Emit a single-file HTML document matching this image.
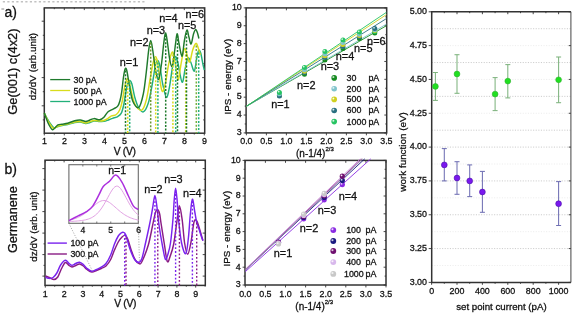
<!DOCTYPE html>
<html><head><meta charset="utf-8"><style>
html,body{margin:0;padding:0;background:#fff;}
svg{display:block;will-change:transform;}
text{font-family:"Liberation Sans", sans-serif;stroke:#111;stroke-width:0.28px;}
</style></head><body>
<svg width="575" height="315" viewBox="0 0 575 315">
<rect width="575" height="315" fill="#fff"/>
<line x1="2.8" y1="1.8" x2="146" y2="1.8" stroke="#c2c2c2" stroke-width="1.4" stroke-dasharray="2.2 2.3"/>
<line x1="1.40" y1="9.00" x2="4.20" y2="9.00" stroke="#888" stroke-width="1" />
<text x="4.40" y="16.60" font-size="14.0" text-anchor="start" fill="#111" >a)</text>
<text x="4.50" y="173.60" font-size="14.0" text-anchor="start" fill="#111" >b)</text>
<rect x="44.30" y="7.90" width="160.40" height="125.30" fill="none" stroke="#333333" stroke-width="1.5"/>
<line x1="44.30" y1="133.20" x2="44.30" y2="135.40" stroke="#333333" stroke-width="0.9" />
<line x1="44.30" y1="7.90" x2="44.30" y2="10.10" stroke="#333333" stroke-width="0.9" />
<line x1="54.30" y1="133.20" x2="54.30" y2="134.50" stroke="#333333" stroke-width="0.9" />
<line x1="54.30" y1="7.90" x2="54.30" y2="9.20" stroke="#333333" stroke-width="0.9" />
<line x1="64.30" y1="133.20" x2="64.30" y2="135.40" stroke="#333333" stroke-width="0.9" />
<line x1="64.30" y1="7.90" x2="64.30" y2="10.10" stroke="#333333" stroke-width="0.9" />
<line x1="74.30" y1="133.20" x2="74.30" y2="134.50" stroke="#333333" stroke-width="0.9" />
<line x1="74.30" y1="7.90" x2="74.30" y2="9.20" stroke="#333333" stroke-width="0.9" />
<line x1="84.30" y1="133.20" x2="84.30" y2="135.40" stroke="#333333" stroke-width="0.9" />
<line x1="84.30" y1="7.90" x2="84.30" y2="10.10" stroke="#333333" stroke-width="0.9" />
<line x1="94.30" y1="133.20" x2="94.30" y2="134.50" stroke="#333333" stroke-width="0.9" />
<line x1="94.30" y1="7.90" x2="94.30" y2="9.20" stroke="#333333" stroke-width="0.9" />
<line x1="104.30" y1="133.20" x2="104.30" y2="135.40" stroke="#333333" stroke-width="0.9" />
<line x1="104.30" y1="7.90" x2="104.30" y2="10.10" stroke="#333333" stroke-width="0.9" />
<line x1="114.30" y1="133.20" x2="114.30" y2="134.50" stroke="#333333" stroke-width="0.9" />
<line x1="114.30" y1="7.90" x2="114.30" y2="9.20" stroke="#333333" stroke-width="0.9" />
<line x1="124.30" y1="133.20" x2="124.30" y2="135.40" stroke="#333333" stroke-width="0.9" />
<line x1="124.30" y1="7.90" x2="124.30" y2="10.10" stroke="#333333" stroke-width="0.9" />
<line x1="134.30" y1="133.20" x2="134.30" y2="134.50" stroke="#333333" stroke-width="0.9" />
<line x1="134.30" y1="7.90" x2="134.30" y2="9.20" stroke="#333333" stroke-width="0.9" />
<line x1="144.30" y1="133.20" x2="144.30" y2="135.40" stroke="#333333" stroke-width="0.9" />
<line x1="144.30" y1="7.90" x2="144.30" y2="10.10" stroke="#333333" stroke-width="0.9" />
<line x1="154.30" y1="133.20" x2="154.30" y2="134.50" stroke="#333333" stroke-width="0.9" />
<line x1="154.30" y1="7.90" x2="154.30" y2="9.20" stroke="#333333" stroke-width="0.9" />
<line x1="164.30" y1="133.20" x2="164.30" y2="135.40" stroke="#333333" stroke-width="0.9" />
<line x1="164.30" y1="7.90" x2="164.30" y2="10.10" stroke="#333333" stroke-width="0.9" />
<line x1="174.30" y1="133.20" x2="174.30" y2="134.50" stroke="#333333" stroke-width="0.9" />
<line x1="174.30" y1="7.90" x2="174.30" y2="9.20" stroke="#333333" stroke-width="0.9" />
<line x1="184.30" y1="133.20" x2="184.30" y2="135.40" stroke="#333333" stroke-width="0.9" />
<line x1="184.30" y1="7.90" x2="184.30" y2="10.10" stroke="#333333" stroke-width="0.9" />
<line x1="194.30" y1="133.20" x2="194.30" y2="134.50" stroke="#333333" stroke-width="0.9" />
<line x1="194.30" y1="7.90" x2="194.30" y2="9.20" stroke="#333333" stroke-width="0.9" />
<line x1="204.30" y1="133.20" x2="204.30" y2="135.40" stroke="#333333" stroke-width="0.9" />
<line x1="204.30" y1="7.90" x2="204.30" y2="10.10" stroke="#333333" stroke-width="0.9" />
<text x="44.50" y="143.90" font-size="8.9" text-anchor="middle" fill="#111" >1</text>
<text x="64.50" y="143.90" font-size="8.9" text-anchor="middle" fill="#111" >2</text>
<text x="84.50" y="143.90" font-size="8.9" text-anchor="middle" fill="#111" >3</text>
<text x="104.50" y="143.90" font-size="8.9" text-anchor="middle" fill="#111" >4</text>
<text x="124.50" y="143.90" font-size="8.9" text-anchor="middle" fill="#111" >5</text>
<text x="144.50" y="143.90" font-size="8.9" text-anchor="middle" fill="#111" >6</text>
<text x="164.50" y="143.90" font-size="8.9" text-anchor="middle" fill="#111" >7</text>
<text x="184.50" y="143.90" font-size="8.9" text-anchor="middle" fill="#111" >8</text>
<text x="204.50" y="143.90" font-size="8.9" text-anchor="middle" fill="#111" >9</text>
<line x1="41.70" y1="21.20" x2="44.30" y2="21.20" stroke="#333333" stroke-width="0.9" />
<line x1="202.10" y1="21.20" x2="204.70" y2="21.20" stroke="#333333" stroke-width="0.9" />
<line x1="42.80" y1="35.30" x2="44.30" y2="35.30" stroke="#333333" stroke-width="0.9" />
<line x1="203.20" y1="35.30" x2="204.70" y2="35.30" stroke="#333333" stroke-width="0.9" />
<line x1="41.70" y1="49.40" x2="44.30" y2="49.40" stroke="#333333" stroke-width="0.9" />
<line x1="202.10" y1="49.40" x2="204.70" y2="49.40" stroke="#333333" stroke-width="0.9" />
<line x1="42.80" y1="63.50" x2="44.30" y2="63.50" stroke="#333333" stroke-width="0.9" />
<line x1="203.20" y1="63.50" x2="204.70" y2="63.50" stroke="#333333" stroke-width="0.9" />
<line x1="41.70" y1="77.60" x2="44.30" y2="77.60" stroke="#333333" stroke-width="0.9" />
<line x1="202.10" y1="77.60" x2="204.70" y2="77.60" stroke="#333333" stroke-width="0.9" />
<line x1="42.80" y1="91.70" x2="44.30" y2="91.70" stroke="#333333" stroke-width="0.9" />
<line x1="203.20" y1="91.70" x2="204.70" y2="91.70" stroke="#333333" stroke-width="0.9" />
<line x1="41.70" y1="105.80" x2="44.30" y2="105.80" stroke="#333333" stroke-width="0.9" />
<line x1="202.10" y1="105.80" x2="204.70" y2="105.80" stroke="#333333" stroke-width="0.9" />
<line x1="42.80" y1="119.90" x2="44.30" y2="119.90" stroke="#333333" stroke-width="0.9" />
<line x1="203.20" y1="119.90" x2="204.70" y2="119.90" stroke="#333333" stroke-width="0.9" />
<text x="124.70" y="154.50" font-size="10.3" text-anchor="middle" fill="#111" letter-spacing="-0.35">V (V)</text>
<text x="0" y="0" font-size="9.9" text-anchor="middle" fill="#111" transform="translate(35.70,66.60) rotate(-90)" >dz/dV (arb.unit)</text>
<text x="0" y="0" font-size="12.8" text-anchor="middle" fill="#111" transform="translate(17.30,71.60) rotate(-90)" >Ge(001) c(4x2)</text>
<line x1="50.20" y1="79.60" x2="70.20" y2="79.60" stroke="#1f7a2c" stroke-width="1.3" />
<text x="73.50" y="82.80" font-size="8.9" text-anchor="start" fill="#111" >30 pA</text>
<line x1="50.20" y1="90.50" x2="70.20" y2="90.50" stroke="#d9dc1c" stroke-width="1.3" />
<text x="73.50" y="93.70" font-size="8.9" text-anchor="start" fill="#111" >500 pA</text>
<line x1="50.20" y1="101.50" x2="70.20" y2="101.50" stroke="#22b07a" stroke-width="1.3" />
<text x="73.50" y="104.70" font-size="8.9" text-anchor="start" fill="#111" >1000 pA</text>
<path d="M44.30,113.10 C44.97,114.33 46.73,118.08 48.30,120.50 C49.87,122.92 52.10,126.60 53.70,127.60 C55.30,128.60 56.50,126.85 57.90,126.50 C59.30,126.15 60.47,125.83 62.10,125.50 C63.73,125.17 65.60,125.00 67.70,124.50 C69.80,124.00 72.60,122.92 74.70,122.50 C76.80,122.08 78.47,121.83 80.30,122.00 C82.13,122.17 84.10,123.42 85.70,123.50 C87.30,123.58 88.50,122.92 89.90,122.50 C91.30,122.08 92.47,121.17 94.10,121.00 C95.73,120.83 98.07,121.43 99.70,121.50 C101.33,121.57 102.47,121.65 103.90,121.40 C105.33,121.15 106.70,120.57 108.30,120.00 C109.90,119.43 111.93,118.57 113.50,118.00 C115.07,117.43 116.40,117.42 117.70,116.60 C119.00,115.78 120.30,115.03 121.30,113.10 C122.30,111.17 122.93,108.52 123.70,105.00 C124.47,101.48 125.20,95.67 125.90,92.00 C126.60,88.33 127.23,84.92 127.90,83.00 C128.57,81.08 129.23,80.33 129.90,80.50 C130.57,80.67 131.10,81.25 131.90,84.00 C132.70,86.75 133.63,93.17 134.70,97.00 C135.77,100.83 136.87,104.52 138.30,107.00 C139.73,109.48 141.63,112.57 143.30,111.90 C144.97,111.23 146.80,107.65 148.30,103.00 C149.80,98.35 151.10,90.33 152.30,84.00 C153.50,77.67 154.60,68.92 155.50,65.00 C156.40,61.08 156.97,60.33 157.70,60.50 C158.43,60.67 159.07,62.08 159.90,66.00 C160.73,69.92 161.63,78.78 162.70,84.00 C163.77,89.22 165.20,96.63 166.30,97.30 C167.40,97.97 168.23,93.22 169.30,88.00 C170.37,82.78 171.70,71.25 172.70,66.00 C173.70,60.75 174.43,57.00 175.30,56.50 C176.17,56.00 176.77,58.72 177.90,63.00 C179.03,67.28 180.87,81.37 182.10,82.20 C183.33,83.03 184.33,72.03 185.30,68.00 C186.27,63.97 187.00,59.00 187.90,58.00 C188.80,57.00 189.63,59.82 190.70,62.00 C191.77,64.18 193.30,71.77 194.30,71.10 C195.30,70.43 195.97,61.43 196.70,58.00 C197.43,54.57 198.03,51.33 198.70,50.50 C199.37,49.67 200.00,50.75 200.70,53.00 C201.40,55.25 202.30,61.17 202.90,64.00 C203.50,66.83 204.07,69.00 204.30,70.00" fill="none" stroke="#22b07a" stroke-width="1.45" stroke-linejoin="round"/>
<path d="M44.30,113.10 C44.97,114.50 46.83,118.98 48.30,121.50 C49.77,124.02 51.50,127.45 53.10,128.20 C54.70,128.95 56.40,126.53 57.90,126.00 C59.40,125.47 60.47,125.33 62.10,125.00 C63.73,124.67 65.60,124.50 67.70,124.00 C69.80,123.50 72.60,122.42 74.70,122.00 C76.80,121.58 78.47,121.33 80.30,121.50 C82.13,121.67 84.10,123.00 85.70,123.00 C87.30,123.00 88.50,121.92 89.90,121.50 C91.30,121.08 92.47,120.58 94.10,120.50 C95.73,120.42 98.07,121.00 99.70,121.00 C101.33,121.00 102.47,120.97 103.90,120.50 C105.33,120.03 107.03,118.97 108.30,118.20 C109.57,117.43 110.17,116.52 111.50,115.90 C112.83,115.28 114.90,115.57 116.30,114.50 C117.70,113.43 118.90,111.75 119.90,109.50 C120.90,107.25 121.57,104.42 122.30,101.00 C123.03,97.58 123.63,92.42 124.30,89.00 C124.97,85.58 125.73,82.22 126.30,80.50 C126.87,78.78 127.20,78.45 127.70,78.70 C128.20,78.95 128.60,79.45 129.30,82.00 C130.00,84.55 130.90,90.17 131.90,94.00 C132.90,97.83 133.67,102.30 135.30,105.00 C136.93,107.70 139.87,111.03 141.70,110.20 C143.53,109.37 144.87,105.37 146.30,100.00 C147.73,94.63 149.13,84.33 150.30,78.00 C151.47,71.67 152.43,65.57 153.30,62.00 C154.17,58.43 154.80,56.60 155.50,56.60 C156.20,56.60 156.77,58.10 157.50,62.00 C158.23,65.90 159.10,75.08 159.90,80.00 C160.70,84.92 161.40,90.83 162.30,91.50 C163.20,92.17 164.30,88.25 165.30,84.00 C166.30,79.75 167.37,70.83 168.30,66.00 C169.23,61.17 170.13,57.23 170.90,55.00 C171.67,52.77 172.17,51.10 172.90,52.60 C173.63,54.10 174.43,59.47 175.30,64.00 C176.17,68.53 177.20,79.47 178.10,79.80 C179.00,80.13 179.83,70.63 180.70,66.00 C181.57,61.37 182.53,54.83 183.30,52.00 C184.07,49.17 184.63,48.33 185.30,49.00 C185.97,49.67 186.57,53.83 187.30,56.00 C188.03,58.17 188.80,63.00 189.70,62.00 C190.60,61.00 191.67,53.08 192.70,50.00 C193.73,46.92 195.03,44.00 195.90,43.50 C196.77,43.00 197.17,45.08 197.90,47.00 C198.63,48.92 199.90,53.67 200.30,55.00" fill="none" stroke="#d9dc1c" stroke-width="1.45" stroke-linejoin="round"/>
<path d="M44.30,113.10 C44.97,114.83 46.97,120.75 48.30,123.50 C49.63,126.25 51.13,128.93 52.30,129.60 C53.47,130.27 54.37,128.28 55.30,127.50 C56.23,126.72 56.77,125.45 57.90,124.90 C59.03,124.35 60.47,124.47 62.10,124.20 C63.73,123.93 65.60,123.88 67.70,123.30 C69.80,122.72 72.60,121.25 74.70,120.70 C76.80,120.15 78.47,119.88 80.30,120.00 C82.13,120.12 84.10,121.40 85.70,121.40 C87.30,121.40 88.50,120.47 89.90,120.00 C91.30,119.53 92.47,118.63 94.10,118.60 C95.73,118.57 98.07,120.02 99.70,119.80 C101.33,119.58 102.50,118.65 103.90,117.30 C105.30,115.95 106.50,113.10 108.10,111.70 C109.70,110.30 111.90,109.83 113.50,108.90 C115.10,107.97 116.63,107.42 117.70,106.10 C118.77,104.78 119.23,103.35 119.90,101.00 C120.57,98.65 121.10,96.00 121.70,92.00 C122.30,88.00 122.90,80.90 123.50,77.00 C124.10,73.10 124.73,69.60 125.30,68.60 C125.87,67.60 126.23,68.27 126.90,71.00 C127.57,73.73 128.33,80.00 129.30,85.00 C130.27,90.00 131.13,97.25 132.70,101.00 C134.27,104.75 136.93,108.67 138.70,107.50 C140.47,106.33 142.03,99.92 143.30,94.00 C144.57,88.08 145.40,79.33 146.30,72.00 C147.20,64.67 147.97,55.27 148.70,50.00 C149.43,44.73 150.03,40.40 150.70,40.40 C151.37,40.40 151.83,44.73 152.70,50.00 C153.57,55.27 154.90,67.17 155.90,72.00 C156.90,76.83 157.77,80.33 158.70,79.00 C159.63,77.67 160.63,70.17 161.50,64.00 C162.37,57.83 163.20,47.17 163.90,42.00 C164.60,36.83 165.10,32.83 165.70,33.00 C166.30,33.17 166.87,38.83 167.50,43.00 C168.13,47.17 168.80,54.08 169.50,58.00 C170.20,61.92 171.00,66.50 171.70,66.50 C172.40,66.50 173.07,61.75 173.70,58.00 C174.33,54.25 174.93,48.05 175.50,44.00 C176.07,39.95 176.53,33.87 177.10,33.70 C177.67,33.53 178.23,39.62 178.90,43.00 C179.57,46.38 180.50,52.00 181.10,54.00 C181.70,56.00 181.93,57.33 182.50,55.00 C183.07,52.67 183.77,44.17 184.50,40.00 C185.23,35.83 186.17,30.50 186.90,30.00 C187.63,29.50 188.20,34.67 188.90,37.00 C189.60,39.33 190.33,44.50 191.10,44.00 C191.87,43.50 192.73,36.42 193.50,34.00 C194.27,31.58 195.03,29.67 195.70,29.50 C196.37,29.33 196.97,31.50 197.50,33.00 C198.03,34.50 198.67,37.58 198.90,38.50" fill="none" stroke="#1f7a2c" stroke-width="1.45" stroke-linejoin="round"/>
<line x1="125.50" y1="70.60" x2="125.50" y2="133.20" stroke="#1f7a2c" stroke-width="1.5" stroke-dasharray="2.0 1.6"/>
<line x1="127.70" y1="80.70" x2="127.70" y2="133.20" stroke="#d9dc1c" stroke-width="1.5" stroke-dasharray="2.0 1.6"/>
<line x1="129.70" y1="82.50" x2="129.70" y2="133.20" stroke="#22b07a" stroke-width="1.5" stroke-dasharray="2.0 1.6"/>
<line x1="150.70" y1="42.40" x2="150.70" y2="133.20" stroke="#6a9a30" stroke-width="1.5" stroke-dasharray="2.0 1.6"/>
<line x1="155.70" y1="58.60" x2="155.70" y2="133.20" stroke="#d9dc1c" stroke-width="1.5" stroke-dasharray="2.0 1.6"/>
<line x1="157.90" y1="62.50" x2="157.90" y2="133.20" stroke="#22b07a" stroke-width="1.5" stroke-dasharray="2.0 1.6"/>
<line x1="165.70" y1="35.00" x2="165.70" y2="133.20" stroke="#1f7a2c" stroke-width="1.5" stroke-dasharray="2.0 1.6"/>
<line x1="172.90" y1="54.60" x2="172.90" y2="133.20" stroke="#d9dc1c" stroke-width="1.5" stroke-dasharray="2.0 1.6"/>
<line x1="175.70" y1="58.50" x2="175.70" y2="133.20" stroke="#22b07a" stroke-width="1.5" stroke-dasharray="2.0 1.6"/>
<line x1="177.50" y1="35.70" x2="177.50" y2="133.20" stroke="#1f7a2c" stroke-width="1.5" stroke-dasharray="2.0 1.6"/>
<line x1="185.70" y1="51.00" x2="185.70" y2="133.20" stroke="#d9dc1c" stroke-width="1.5" stroke-dasharray="2.0 1.6"/>
<line x1="186.50" y1="33.00" x2="186.50" y2="133.20" stroke="#1f7a2c" stroke-width="1.5" stroke-dasharray="2.0 1.6"/>
<line x1="196.30" y1="45.50" x2="196.30" y2="133.20" stroke="#7ab040" stroke-width="1.5" stroke-dasharray="2.0 1.6"/>
<line x1="198.70" y1="52.50" x2="198.70" y2="133.20" stroke="#22b07a" stroke-width="1.5" stroke-dasharray="2.0 1.6"/>
<text x="119.80" y="65.70" font-size="10.9" text-anchor="start" fill="#111" >n=1</text>
<text x="130.00" y="46.30" font-size="10.9" text-anchor="start" fill="#111" >n=2</text>
<text x="146.70" y="33.90" font-size="10.9" text-anchor="start" fill="#111" >n=3</text>
<text x="159.20" y="21.90" font-size="10.9" text-anchor="start" fill="#111" >n=4</text>
<text x="177.90" y="29.40" font-size="10.9" text-anchor="start" fill="#111" >n=5</text>
<text x="185.50" y="18.40" font-size="10.9" text-anchor="start" fill="#111" >n=6</text>
<rect x="246.10" y="7.90" width="140.60" height="125.00" fill="none" stroke="#333333" stroke-width="1.5"/>
<line x1="243.70" y1="132.90" x2="246.10" y2="132.90" stroke="#333333" stroke-width="0.9" />
<line x1="384.30" y1="132.90" x2="386.70" y2="132.90" stroke="#333333" stroke-width="0.9" />
<line x1="244.70" y1="123.97" x2="246.10" y2="123.97" stroke="#333333" stroke-width="0.9" />
<line x1="385.30" y1="123.97" x2="386.70" y2="123.97" stroke="#333333" stroke-width="0.9" />
<line x1="243.70" y1="115.04" x2="246.10" y2="115.04" stroke="#333333" stroke-width="0.9" />
<line x1="384.30" y1="115.04" x2="386.70" y2="115.04" stroke="#333333" stroke-width="0.9" />
<line x1="244.70" y1="106.11" x2="246.10" y2="106.11" stroke="#333333" stroke-width="0.9" />
<line x1="385.30" y1="106.11" x2="386.70" y2="106.11" stroke="#333333" stroke-width="0.9" />
<line x1="243.70" y1="97.18" x2="246.10" y2="97.18" stroke="#333333" stroke-width="0.9" />
<line x1="384.30" y1="97.18" x2="386.70" y2="97.18" stroke="#333333" stroke-width="0.9" />
<line x1="244.70" y1="88.25" x2="246.10" y2="88.25" stroke="#333333" stroke-width="0.9" />
<line x1="385.30" y1="88.25" x2="386.70" y2="88.25" stroke="#333333" stroke-width="0.9" />
<line x1="243.70" y1="79.32" x2="246.10" y2="79.32" stroke="#333333" stroke-width="0.9" />
<line x1="384.30" y1="79.32" x2="386.70" y2="79.32" stroke="#333333" stroke-width="0.9" />
<line x1="244.70" y1="70.39" x2="246.10" y2="70.39" stroke="#333333" stroke-width="0.9" />
<line x1="385.30" y1="70.39" x2="386.70" y2="70.39" stroke="#333333" stroke-width="0.9" />
<line x1="243.70" y1="61.46" x2="246.10" y2="61.46" stroke="#333333" stroke-width="0.9" />
<line x1="384.30" y1="61.46" x2="386.70" y2="61.46" stroke="#333333" stroke-width="0.9" />
<line x1="244.70" y1="52.53" x2="246.10" y2="52.53" stroke="#333333" stroke-width="0.9" />
<line x1="385.30" y1="52.53" x2="386.70" y2="52.53" stroke="#333333" stroke-width="0.9" />
<line x1="243.70" y1="43.60" x2="246.10" y2="43.60" stroke="#333333" stroke-width="0.9" />
<line x1="384.30" y1="43.60" x2="386.70" y2="43.60" stroke="#333333" stroke-width="0.9" />
<line x1="244.70" y1="34.67" x2="246.10" y2="34.67" stroke="#333333" stroke-width="0.9" />
<line x1="385.30" y1="34.67" x2="386.70" y2="34.67" stroke="#333333" stroke-width="0.9" />
<line x1="243.70" y1="25.74" x2="246.10" y2="25.74" stroke="#333333" stroke-width="0.9" />
<line x1="384.30" y1="25.74" x2="386.70" y2="25.74" stroke="#333333" stroke-width="0.9" />
<line x1="244.70" y1="16.81" x2="246.10" y2="16.81" stroke="#333333" stroke-width="0.9" />
<line x1="385.30" y1="16.81" x2="386.70" y2="16.81" stroke="#333333" stroke-width="0.9" />
<line x1="243.70" y1="7.88" x2="246.10" y2="7.88" stroke="#333333" stroke-width="0.9" />
<line x1="384.30" y1="7.88" x2="386.70" y2="7.88" stroke="#333333" stroke-width="0.9" />
<text x="241.80" y="135.20" font-size="8.9" text-anchor="end" fill="#111" >3</text>
<text x="241.80" y="117.34" font-size="8.9" text-anchor="end" fill="#111" >4</text>
<text x="241.80" y="99.48" font-size="8.9" text-anchor="end" fill="#111" >5</text>
<text x="241.80" y="81.62" font-size="8.9" text-anchor="end" fill="#111" >6</text>
<text x="241.80" y="63.76" font-size="8.9" text-anchor="end" fill="#111" >7</text>
<text x="241.80" y="45.90" font-size="8.9" text-anchor="end" fill="#111" >8</text>
<text x="241.80" y="28.04" font-size="8.9" text-anchor="end" fill="#111" >9</text>
<text x="241.80" y="10.18" font-size="8.9" text-anchor="end" fill="#111" >10</text>
<line x1="246.40" y1="132.90" x2="246.40" y2="135.30" stroke="#333333" stroke-width="0.9" />
<line x1="246.40" y1="7.90" x2="246.40" y2="10.30" stroke="#333333" stroke-width="0.9" />
<line x1="266.40" y1="132.90" x2="266.40" y2="135.30" stroke="#333333" stroke-width="0.9" />
<line x1="266.40" y1="7.90" x2="266.40" y2="10.30" stroke="#333333" stroke-width="0.9" />
<line x1="286.40" y1="132.90" x2="286.40" y2="135.30" stroke="#333333" stroke-width="0.9" />
<line x1="286.40" y1="7.90" x2="286.40" y2="10.30" stroke="#333333" stroke-width="0.9" />
<line x1="306.40" y1="132.90" x2="306.40" y2="135.30" stroke="#333333" stroke-width="0.9" />
<line x1="306.40" y1="7.90" x2="306.40" y2="10.30" stroke="#333333" stroke-width="0.9" />
<line x1="326.40" y1="132.90" x2="326.40" y2="135.30" stroke="#333333" stroke-width="0.9" />
<line x1="326.40" y1="7.90" x2="326.40" y2="10.30" stroke="#333333" stroke-width="0.9" />
<line x1="346.40" y1="132.90" x2="346.40" y2="135.30" stroke="#333333" stroke-width="0.9" />
<line x1="346.40" y1="7.90" x2="346.40" y2="10.30" stroke="#333333" stroke-width="0.9" />
<line x1="366.40" y1="132.90" x2="366.40" y2="135.30" stroke="#333333" stroke-width="0.9" />
<line x1="366.40" y1="7.90" x2="366.40" y2="10.30" stroke="#333333" stroke-width="0.9" />
<line x1="386.40" y1="132.90" x2="386.40" y2="135.30" stroke="#333333" stroke-width="0.9" />
<line x1="386.40" y1="7.90" x2="386.40" y2="10.30" stroke="#333333" stroke-width="0.9" />
<text x="246.40" y="144.20" font-size="8.9" text-anchor="middle" fill="#111" >0.0</text>
<text x="266.40" y="144.20" font-size="8.9" text-anchor="middle" fill="#111" >0.5</text>
<text x="286.40" y="144.20" font-size="8.9" text-anchor="middle" fill="#111" >1.0</text>
<text x="306.40" y="144.20" font-size="8.9" text-anchor="middle" fill="#111" >1.5</text>
<text x="326.40" y="144.20" font-size="8.9" text-anchor="middle" fill="#111" >2.0</text>
<text x="346.40" y="144.20" font-size="8.9" text-anchor="middle" fill="#111" >2.5</text>
<text x="366.40" y="144.20" font-size="8.9" text-anchor="middle" fill="#111" >3.0</text>
<text x="386.40" y="144.20" font-size="8.9" text-anchor="middle" fill="#111" >3.5</text>
<text x="296.0" y="157.0" font-size="10.0" fill="#111">(n-1/4)<tspan font-size="6" dy="-5.9">2/3</tspan></text>
<text x="0" y="0" font-size="9.8" text-anchor="middle" fill="#111" transform="translate(230.60,76.60) rotate(-90)" >IPS - energy (eV)</text>
<line x1="246.40" y1="106.29" x2="386.40" y2="25.74" stroke="#158a20" stroke-width="0.9"/>
<line x1="246.40" y1="106.29" x2="386.40" y2="24.13" stroke="#80c4cc" stroke-width="0.9"/>
<line x1="246.40" y1="106.29" x2="386.40" y2="14.67" stroke="#d0d020" stroke-width="0.9"/>
<line x1="246.40" y1="106.29" x2="386.40" y2="18.60" stroke="#2a7080" stroke-width="0.9"/>
<line x1="246.40" y1="106.29" x2="386.40" y2="12.35" stroke="#26c462" stroke-width="0.9"/>
<defs>
<radialGradient id="g0" cx="0.35" cy="0.35" r="0.75"><stop offset="0" stop-color="#ffffff" stop-opacity="0.9"/><stop offset="0.35" stop-color="#158a20"/><stop offset="1" stop-color="#158a20"/></radialGradient>
<radialGradient id="g1" cx="0.35" cy="0.35" r="0.75"><stop offset="0" stop-color="#ffffff" stop-opacity="0.9"/><stop offset="0.35" stop-color="#80c4cc"/><stop offset="1" stop-color="#80c4cc"/></radialGradient>
<radialGradient id="g2" cx="0.35" cy="0.35" r="0.75"><stop offset="0" stop-color="#ffffff" stop-opacity="0.9"/><stop offset="0.35" stop-color="#d0d020"/><stop offset="1" stop-color="#d0d020"/></radialGradient>
<radialGradient id="g3" cx="0.35" cy="0.35" r="0.75"><stop offset="0" stop-color="#ffffff" stop-opacity="0.9"/><stop offset="0.35" stop-color="#2a7080"/><stop offset="1" stop-color="#2a7080"/></radialGradient>
<radialGradient id="g4" cx="0.35" cy="0.35" r="0.75"><stop offset="0" stop-color="#ffffff" stop-opacity="0.9"/><stop offset="0.35" stop-color="#26c462"/><stop offset="1" stop-color="#26c462"/></radialGradient>
<radialGradient id="g5" cx="0.35" cy="0.35" r="0.75"><stop offset="0" stop-color="#ffffff" stop-opacity="0.9"/><stop offset="0.35" stop-color="#8a2be2"/><stop offset="1" stop-color="#8a2be2"/></radialGradient>
<radialGradient id="g6" cx="0.35" cy="0.35" r="0.75"><stop offset="0" stop-color="#ffffff" stop-opacity="0.9"/><stop offset="0.35" stop-color="#1a1a80"/><stop offset="1" stop-color="#1a1a80"/></radialGradient>
<radialGradient id="g7" cx="0.35" cy="0.35" r="0.75"><stop offset="0" stop-color="#ffffff" stop-opacity="0.9"/><stop offset="0.35" stop-color="#701070"/><stop offset="1" stop-color="#701070"/></radialGradient>
<radialGradient id="g8" cx="0.35" cy="0.35" r="0.75"><stop offset="0" stop-color="#ffffff" stop-opacity="0.9"/><stop offset="0.35" stop-color="#d8b8ec"/><stop offset="1" stop-color="#d8b8ec"/></radialGradient>
<radialGradient id="g9" cx="0.35" cy="0.35" r="0.75"><stop offset="0" stop-color="#ffffff" stop-opacity="0.9"/><stop offset="0.35" stop-color="#c8c8c8"/><stop offset="1" stop-color="#c8c8c8"/></radialGradient>
<radialGradient id="g10" cx="0.35" cy="0.35" r="0.75"><stop offset="0" stop-color="#ffffff" stop-opacity="0.9"/><stop offset="0.35" stop-color="#a0a0a0"/><stop offset="1" stop-color="#a0a0a0"/></radialGradient>
</defs>
<circle cx="279.42" cy="95.50" r="2.5" fill="url(#g0)"/>
<circle cx="279.42" cy="95.00" r="2.5" fill="url(#g2)"/>
<circle cx="279.42" cy="96.10" r="2.5" fill="url(#g3)"/>
<circle cx="279.42" cy="93.80" r="2.5" fill="url(#g1)"/>
<circle cx="279.42" cy="92.40" r="2.5" fill="url(#g4)"/>
<circle cx="304.49" cy="74.30" r="2.5" fill="url(#g0)"/>
<circle cx="304.49" cy="72.50" r="2.5" fill="url(#g3)"/>
<circle cx="304.49" cy="71.30" r="2.5" fill="url(#g2)"/>
<circle cx="304.49" cy="69.80" r="2.5" fill="url(#g1)"/>
<circle cx="304.49" cy="67.40" r="2.5" fill="url(#g4)"/>
<circle cx="324.91" cy="60.10" r="2.5" fill="url(#g0)"/>
<circle cx="324.91" cy="57.60" r="2.5" fill="url(#g3)"/>
<circle cx="324.91" cy="55.80" r="2.5" fill="url(#g2)"/>
<circle cx="324.91" cy="54.00" r="2.5" fill="url(#g1)"/>
<circle cx="324.91" cy="51.40" r="2.5" fill="url(#g4)"/>
<circle cx="342.95" cy="48.60" r="2.5" fill="url(#g0)"/>
<circle cx="342.95" cy="46.40" r="2.5" fill="url(#g3)"/>
<circle cx="342.95" cy="44.60" r="2.5" fill="url(#g2)"/>
<circle cx="342.95" cy="42.60" r="2.5" fill="url(#g1)"/>
<circle cx="342.95" cy="39.90" r="2.5" fill="url(#g4)"/>
<circle cx="359.43" cy="38.60" r="2.5" fill="url(#g0)"/>
<circle cx="359.43" cy="36.80" r="2.5" fill="url(#g3)"/>
<circle cx="359.43" cy="35.40" r="2.5" fill="url(#g2)"/>
<circle cx="359.43" cy="34.20" r="2.5" fill="url(#g1)"/>
<circle cx="359.43" cy="32.10" r="2.5" fill="url(#g4)"/>
<circle cx="374.78" cy="33.00" r="2.5" fill="url(#g0)"/>
<circle cx="374.78" cy="31.40" r="2.5" fill="url(#g4)"/>
<circle cx="374.78" cy="30.60" r="2.5" fill="url(#g2)"/>
<circle cx="374.78" cy="29.80" r="2.5" fill="url(#g1)"/>
<circle cx="374.78" cy="28.50" r="2.5" fill="url(#g3)"/>
<text x="271.20" y="107.80" font-size="10.9" text-anchor="start" fill="#111" >n=1</text>
<text x="297.00" y="88.60" font-size="10.9" text-anchor="start" fill="#111" >n=2</text>
<text x="320.70" y="69.90" font-size="10.9" text-anchor="start" fill="#111" >n=3</text>
<text x="335.80" y="59.50" font-size="10.9" text-anchor="start" fill="#111" >n=4</text>
<text x="354.00" y="52.30" font-size="10.9" text-anchor="start" fill="#111" >n=5</text>
<text x="367.10" y="45.10" font-size="10.9" text-anchor="start" fill="#111" >n=6</text>
<circle cx="334.2" cy="77.90" r="2.8" fill="url(#g0)"/>
<text x="346.60" y="80.80" font-size="8.9" text-anchor="start" fill="#111" >30</text>
<text x="368.40" y="80.80" font-size="8.9" text-anchor="start" fill="#111" >pA</text>
<circle cx="334.2" cy="88.70" r="2.8" fill="url(#g1)"/>
<text x="346.60" y="91.60" font-size="8.9" text-anchor="start" fill="#111" >200</text>
<text x="368.40" y="91.60" font-size="8.9" text-anchor="start" fill="#111" >pA</text>
<circle cx="334.2" cy="99.40" r="2.8" fill="url(#g2)"/>
<text x="346.60" y="102.30" font-size="8.9" text-anchor="start" fill="#111" >500</text>
<text x="368.40" y="102.30" font-size="8.9" text-anchor="start" fill="#111" >pA</text>
<circle cx="334.2" cy="110.50" r="2.8" fill="url(#g3)"/>
<text x="346.60" y="113.40" font-size="8.9" text-anchor="start" fill="#111" >600</text>
<text x="368.40" y="113.40" font-size="8.9" text-anchor="start" fill="#111" >pA</text>
<circle cx="334.2" cy="121.60" r="2.8" fill="url(#g4)"/>
<text x="346.60" y="124.50" font-size="8.9" text-anchor="start" fill="#111" >1000</text>
<text x="368.40" y="124.50" font-size="8.9" text-anchor="start" fill="#111" >pA</text>
<rect x="245.00" y="160.40" width="141.00" height="124.60" fill="none" stroke="#333333" stroke-width="1.5"/>
<line x1="242.60" y1="285.00" x2="245.00" y2="285.00" stroke="#333333" stroke-width="0.9" />
<line x1="383.60" y1="285.00" x2="386.00" y2="285.00" stroke="#333333" stroke-width="0.9" />
<line x1="243.60" y1="276.10" x2="245.00" y2="276.10" stroke="#333333" stroke-width="0.9" />
<line x1="384.60" y1="276.10" x2="386.00" y2="276.10" stroke="#333333" stroke-width="0.9" />
<line x1="242.60" y1="267.20" x2="245.00" y2="267.20" stroke="#333333" stroke-width="0.9" />
<line x1="383.60" y1="267.20" x2="386.00" y2="267.20" stroke="#333333" stroke-width="0.9" />
<line x1="243.60" y1="258.30" x2="245.00" y2="258.30" stroke="#333333" stroke-width="0.9" />
<line x1="384.60" y1="258.30" x2="386.00" y2="258.30" stroke="#333333" stroke-width="0.9" />
<line x1="242.60" y1="249.40" x2="245.00" y2="249.40" stroke="#333333" stroke-width="0.9" />
<line x1="383.60" y1="249.40" x2="386.00" y2="249.40" stroke="#333333" stroke-width="0.9" />
<line x1="243.60" y1="240.50" x2="245.00" y2="240.50" stroke="#333333" stroke-width="0.9" />
<line x1="384.60" y1="240.50" x2="386.00" y2="240.50" stroke="#333333" stroke-width="0.9" />
<line x1="242.60" y1="231.60" x2="245.00" y2="231.60" stroke="#333333" stroke-width="0.9" />
<line x1="383.60" y1="231.60" x2="386.00" y2="231.60" stroke="#333333" stroke-width="0.9" />
<line x1="243.60" y1="222.70" x2="245.00" y2="222.70" stroke="#333333" stroke-width="0.9" />
<line x1="384.60" y1="222.70" x2="386.00" y2="222.70" stroke="#333333" stroke-width="0.9" />
<line x1="242.60" y1="213.80" x2="245.00" y2="213.80" stroke="#333333" stroke-width="0.9" />
<line x1="383.60" y1="213.80" x2="386.00" y2="213.80" stroke="#333333" stroke-width="0.9" />
<line x1="243.60" y1="204.90" x2="245.00" y2="204.90" stroke="#333333" stroke-width="0.9" />
<line x1="384.60" y1="204.90" x2="386.00" y2="204.90" stroke="#333333" stroke-width="0.9" />
<line x1="242.60" y1="196.00" x2="245.00" y2="196.00" stroke="#333333" stroke-width="0.9" />
<line x1="383.60" y1="196.00" x2="386.00" y2="196.00" stroke="#333333" stroke-width="0.9" />
<line x1="243.60" y1="187.10" x2="245.00" y2="187.10" stroke="#333333" stroke-width="0.9" />
<line x1="384.60" y1="187.10" x2="386.00" y2="187.10" stroke="#333333" stroke-width="0.9" />
<line x1="242.60" y1="178.20" x2="245.00" y2="178.20" stroke="#333333" stroke-width="0.9" />
<line x1="383.60" y1="178.20" x2="386.00" y2="178.20" stroke="#333333" stroke-width="0.9" />
<line x1="243.60" y1="169.30" x2="245.00" y2="169.30" stroke="#333333" stroke-width="0.9" />
<line x1="384.60" y1="169.30" x2="386.00" y2="169.30" stroke="#333333" stroke-width="0.9" />
<line x1="242.60" y1="160.40" x2="245.00" y2="160.40" stroke="#333333" stroke-width="0.9" />
<line x1="383.60" y1="160.40" x2="386.00" y2="160.40" stroke="#333333" stroke-width="0.9" />
<text x="240.80" y="287.30" font-size="8.9" text-anchor="end" fill="#111" >3</text>
<text x="240.80" y="269.50" font-size="8.9" text-anchor="end" fill="#111" >4</text>
<text x="240.80" y="251.70" font-size="8.9" text-anchor="end" fill="#111" >5</text>
<text x="240.80" y="233.90" font-size="8.9" text-anchor="end" fill="#111" >6</text>
<text x="240.80" y="216.10" font-size="8.9" text-anchor="end" fill="#111" >7</text>
<text x="240.80" y="198.30" font-size="8.9" text-anchor="end" fill="#111" >8</text>
<text x="240.80" y="180.50" font-size="8.9" text-anchor="end" fill="#111" >9</text>
<text x="240.80" y="162.70" font-size="8.9" text-anchor="end" fill="#111" >10</text>
<line x1="245.30" y1="285.00" x2="245.30" y2="287.40" stroke="#333333" stroke-width="0.9" />
<line x1="245.30" y1="160.40" x2="245.30" y2="162.80" stroke="#333333" stroke-width="0.9" />
<line x1="265.40" y1="285.00" x2="265.40" y2="287.40" stroke="#333333" stroke-width="0.9" />
<line x1="265.40" y1="160.40" x2="265.40" y2="162.80" stroke="#333333" stroke-width="0.9" />
<line x1="285.50" y1="285.00" x2="285.50" y2="287.40" stroke="#333333" stroke-width="0.9" />
<line x1="285.50" y1="160.40" x2="285.50" y2="162.80" stroke="#333333" stroke-width="0.9" />
<line x1="305.60" y1="285.00" x2="305.60" y2="287.40" stroke="#333333" stroke-width="0.9" />
<line x1="305.60" y1="160.40" x2="305.60" y2="162.80" stroke="#333333" stroke-width="0.9" />
<line x1="325.70" y1="285.00" x2="325.70" y2="287.40" stroke="#333333" stroke-width="0.9" />
<line x1="325.70" y1="160.40" x2="325.70" y2="162.80" stroke="#333333" stroke-width="0.9" />
<line x1="345.80" y1="285.00" x2="345.80" y2="287.40" stroke="#333333" stroke-width="0.9" />
<line x1="345.80" y1="160.40" x2="345.80" y2="162.80" stroke="#333333" stroke-width="0.9" />
<line x1="365.90" y1="285.00" x2="365.90" y2="287.40" stroke="#333333" stroke-width="0.9" />
<line x1="365.90" y1="160.40" x2="365.90" y2="162.80" stroke="#333333" stroke-width="0.9" />
<line x1="386.00" y1="285.00" x2="386.00" y2="287.40" stroke="#333333" stroke-width="0.9" />
<line x1="386.00" y1="160.40" x2="386.00" y2="162.80" stroke="#333333" stroke-width="0.9" />
<text x="245.30" y="296.80" font-size="8.9" text-anchor="middle" fill="#111" >0.0</text>
<text x="265.40" y="296.80" font-size="8.9" text-anchor="middle" fill="#111" >0.5</text>
<text x="285.50" y="296.80" font-size="8.9" text-anchor="middle" fill="#111" >1.0</text>
<text x="305.60" y="296.80" font-size="8.9" text-anchor="middle" fill="#111" >1.5</text>
<text x="325.70" y="296.80" font-size="8.9" text-anchor="middle" fill="#111" >2.0</text>
<text x="345.80" y="296.80" font-size="8.9" text-anchor="middle" fill="#111" >2.5</text>
<text x="365.90" y="296.80" font-size="8.9" text-anchor="middle" fill="#111" >3.0</text>
<text x="386.00" y="296.80" font-size="8.9" text-anchor="middle" fill="#111" >3.5</text>
<text x="295.3" y="309.8" font-size="10.0" fill="#111">(n-1/4)<tspan font-size="6" dy="-5.9">2/3</tspan></text>
<text x="0" y="0" font-size="9.8" text-anchor="middle" fill="#111" transform="translate(229.80,228.70) rotate(-90)" >IPS - energy (eV)</text>
<line x1="245.30" y1="271.65" x2="370.72" y2="158.90" stroke="#8a2be2" stroke-width="0.9"/>
<line x1="245.30" y1="270.05" x2="364.69" y2="158.90" stroke="#1a1a80" stroke-width="0.9"/>
<line x1="245.30" y1="269.69" x2="361.88" y2="158.90" stroke="#8a1a8a" stroke-width="0.9"/>
<line x1="245.30" y1="269.34" x2="360.27" y2="158.90" stroke="#c080d0" stroke-width="0.9"/>
<line x1="245.30" y1="270.40" x2="362.68" y2="158.90" stroke="#9a9ab0" stroke-width="0.9"/>
<circle cx="278.48" cy="242.00" r="2.6" fill="url(#g5)"/>
<circle cx="278.48" cy="242.30" r="2.6" fill="url(#g6)"/>
<circle cx="278.48" cy="242.40" r="2.6" fill="url(#g7)"/>
<circle cx="278.48" cy="243.20" r="2.6" fill="url(#g8)"/>
<circle cx="278.48" cy="244.00" r="2.6" fill="url(#g9)"/>
<circle cx="303.68" cy="218.80" r="2.6" fill="url(#g5)"/>
<circle cx="303.68" cy="217.40" r="2.6" fill="url(#g6)"/>
<circle cx="303.68" cy="216.40" r="2.6" fill="url(#g7)"/>
<circle cx="303.68" cy="215.40" r="2.6" fill="url(#g8)"/>
<circle cx="303.68" cy="214.20" r="2.6" fill="url(#g9)"/>
<circle cx="324.21" cy="199.80" r="2.6" fill="url(#g5)"/>
<circle cx="324.21" cy="197.40" r="2.6" fill="url(#g6)"/>
<circle cx="324.21" cy="195.80" r="2.6" fill="url(#g7)"/>
<circle cx="324.21" cy="194.60" r="2.6" fill="url(#g8)"/>
<circle cx="324.21" cy="193.40" r="2.6" fill="url(#g9)"/>
<circle cx="342.33" cy="178.80" r="2.6" fill="url(#g9)"/>
<circle cx="342.33" cy="178.00" r="2.6" fill="url(#g8)"/>
<circle cx="342.33" cy="184.60" r="2.6" fill="url(#g5)"/>
<circle cx="342.33" cy="180.60" r="2.6" fill="url(#g6)"/>
<circle cx="342.33" cy="176.20" r="2.6" fill="url(#g7)"/>
<text x="273.80" y="257.40" font-size="10.9" text-anchor="start" fill="#111" >n=1</text>
<text x="299.80" y="231.60" font-size="10.9" text-anchor="start" fill="#111" >n=2</text>
<text x="317.80" y="213.90" font-size="10.9" text-anchor="start" fill="#111" >n=3</text>
<text x="338.70" y="199.50" font-size="10.9" text-anchor="start" fill="#111" >n=4</text>
<circle cx="333.3" cy="230.10" r="2.9" fill="url(#g5)"/>
<text x="346.20" y="233.10" font-size="8.9" text-anchor="start" fill="#111" >100</text>
<text x="365.60" y="233.10" font-size="8.9" text-anchor="start" fill="#111" >pA</text>
<circle cx="333.3" cy="241.00" r="2.9" fill="url(#g6)"/>
<text x="346.20" y="244.00" font-size="8.9" text-anchor="start" fill="#111" >200</text>
<text x="365.60" y="244.00" font-size="8.9" text-anchor="start" fill="#111" >pA</text>
<circle cx="333.3" cy="251.00" r="2.9" fill="url(#g7)"/>
<text x="346.20" y="254.00" font-size="8.9" text-anchor="start" fill="#111" >300</text>
<text x="365.60" y="254.00" font-size="8.9" text-anchor="start" fill="#111" >pA</text>
<circle cx="333.3" cy="262.10" r="2.9" fill="url(#g8)"/>
<text x="346.20" y="265.10" font-size="8.9" text-anchor="start" fill="#111" >400</text>
<text x="365.60" y="265.10" font-size="8.9" text-anchor="start" fill="#111" >pA</text>
<circle cx="333.3" cy="273.90" r="2.9" fill="url(#g9)"/>
<text x="344.00" y="276.90" font-size="8.9" text-anchor="start" fill="#111" >1000</text>
<text x="365.60" y="276.90" font-size="8.9" text-anchor="start" fill="#111" >pA</text>
<rect x="45.00" y="160.20" width="160.30" height="125.20" fill="none" stroke="#333333" stroke-width="1.5"/>
<line x1="45.30" y1="285.40" x2="45.30" y2="287.60" stroke="#333333" stroke-width="0.9" />
<line x1="45.30" y1="160.20" x2="45.30" y2="162.40" stroke="#333333" stroke-width="0.9" />
<line x1="54.70" y1="285.40" x2="54.70" y2="286.70" stroke="#333333" stroke-width="0.9" />
<line x1="54.70" y1="160.20" x2="54.70" y2="161.50" stroke="#333333" stroke-width="0.9" />
<line x1="64.10" y1="285.40" x2="64.10" y2="287.60" stroke="#333333" stroke-width="0.9" />
<line x1="64.10" y1="160.20" x2="64.10" y2="162.40" stroke="#333333" stroke-width="0.9" />
<line x1="73.50" y1="285.40" x2="73.50" y2="286.70" stroke="#333333" stroke-width="0.9" />
<line x1="73.50" y1="160.20" x2="73.50" y2="161.50" stroke="#333333" stroke-width="0.9" />
<line x1="82.90" y1="285.40" x2="82.90" y2="287.60" stroke="#333333" stroke-width="0.9" />
<line x1="82.90" y1="160.20" x2="82.90" y2="162.40" stroke="#333333" stroke-width="0.9" />
<line x1="92.30" y1="285.40" x2="92.30" y2="286.70" stroke="#333333" stroke-width="0.9" />
<line x1="92.30" y1="160.20" x2="92.30" y2="161.50" stroke="#333333" stroke-width="0.9" />
<line x1="101.70" y1="285.40" x2="101.70" y2="287.60" stroke="#333333" stroke-width="0.9" />
<line x1="101.70" y1="160.20" x2="101.70" y2="162.40" stroke="#333333" stroke-width="0.9" />
<line x1="111.10" y1="285.40" x2="111.10" y2="286.70" stroke="#333333" stroke-width="0.9" />
<line x1="111.10" y1="160.20" x2="111.10" y2="161.50" stroke="#333333" stroke-width="0.9" />
<line x1="120.50" y1="285.40" x2="120.50" y2="287.60" stroke="#333333" stroke-width="0.9" />
<line x1="120.50" y1="160.20" x2="120.50" y2="162.40" stroke="#333333" stroke-width="0.9" />
<line x1="129.90" y1="285.40" x2="129.90" y2="286.70" stroke="#333333" stroke-width="0.9" />
<line x1="129.90" y1="160.20" x2="129.90" y2="161.50" stroke="#333333" stroke-width="0.9" />
<line x1="139.30" y1="285.40" x2="139.30" y2="287.60" stroke="#333333" stroke-width="0.9" />
<line x1="139.30" y1="160.20" x2="139.30" y2="162.40" stroke="#333333" stroke-width="0.9" />
<line x1="148.70" y1="285.40" x2="148.70" y2="286.70" stroke="#333333" stroke-width="0.9" />
<line x1="148.70" y1="160.20" x2="148.70" y2="161.50" stroke="#333333" stroke-width="0.9" />
<line x1="158.10" y1="285.40" x2="158.10" y2="287.60" stroke="#333333" stroke-width="0.9" />
<line x1="158.10" y1="160.20" x2="158.10" y2="162.40" stroke="#333333" stroke-width="0.9" />
<line x1="167.50" y1="285.40" x2="167.50" y2="286.70" stroke="#333333" stroke-width="0.9" />
<line x1="167.50" y1="160.20" x2="167.50" y2="161.50" stroke="#333333" stroke-width="0.9" />
<line x1="176.90" y1="285.40" x2="176.90" y2="287.60" stroke="#333333" stroke-width="0.9" />
<line x1="176.90" y1="160.20" x2="176.90" y2="162.40" stroke="#333333" stroke-width="0.9" />
<line x1="186.30" y1="285.40" x2="186.30" y2="286.70" stroke="#333333" stroke-width="0.9" />
<line x1="186.30" y1="160.20" x2="186.30" y2="161.50" stroke="#333333" stroke-width="0.9" />
<line x1="195.70" y1="285.40" x2="195.70" y2="287.60" stroke="#333333" stroke-width="0.9" />
<line x1="195.70" y1="160.20" x2="195.70" y2="162.40" stroke="#333333" stroke-width="0.9" />
<line x1="205.10" y1="285.40" x2="205.10" y2="286.70" stroke="#333333" stroke-width="0.9" />
<line x1="205.10" y1="160.20" x2="205.10" y2="161.50" stroke="#333333" stroke-width="0.9" />
<text x="45.30" y="297.20" font-size="8.9" text-anchor="middle" fill="#111" >1</text>
<text x="64.10" y="297.20" font-size="8.9" text-anchor="middle" fill="#111" >2</text>
<text x="82.90" y="297.20" font-size="8.9" text-anchor="middle" fill="#111" >3</text>
<text x="101.70" y="297.20" font-size="8.9" text-anchor="middle" fill="#111" >4</text>
<text x="120.50" y="297.20" font-size="8.9" text-anchor="middle" fill="#111" >5</text>
<text x="139.30" y="297.20" font-size="8.9" text-anchor="middle" fill="#111" >6</text>
<text x="158.10" y="297.20" font-size="8.9" text-anchor="middle" fill="#111" >7</text>
<text x="176.90" y="297.20" font-size="8.9" text-anchor="middle" fill="#111" >8</text>
<text x="195.70" y="297.20" font-size="8.9" text-anchor="middle" fill="#111" >9</text>
<line x1="42.40" y1="168.60" x2="45.00" y2="168.60" stroke="#333333" stroke-width="0.9" />
<line x1="202.70" y1="168.60" x2="205.30" y2="168.60" stroke="#333333" stroke-width="0.9" />
<line x1="43.50" y1="179.35" x2="45.00" y2="179.35" stroke="#333333" stroke-width="0.9" />
<line x1="203.80" y1="179.35" x2="205.30" y2="179.35" stroke="#333333" stroke-width="0.9" />
<line x1="42.40" y1="190.10" x2="45.00" y2="190.10" stroke="#333333" stroke-width="0.9" />
<line x1="202.70" y1="190.10" x2="205.30" y2="190.10" stroke="#333333" stroke-width="0.9" />
<line x1="43.50" y1="200.85" x2="45.00" y2="200.85" stroke="#333333" stroke-width="0.9" />
<line x1="203.80" y1="200.85" x2="205.30" y2="200.85" stroke="#333333" stroke-width="0.9" />
<line x1="42.40" y1="211.60" x2="45.00" y2="211.60" stroke="#333333" stroke-width="0.9" />
<line x1="202.70" y1="211.60" x2="205.30" y2="211.60" stroke="#333333" stroke-width="0.9" />
<line x1="43.50" y1="222.35" x2="45.00" y2="222.35" stroke="#333333" stroke-width="0.9" />
<line x1="203.80" y1="222.35" x2="205.30" y2="222.35" stroke="#333333" stroke-width="0.9" />
<line x1="42.40" y1="233.10" x2="45.00" y2="233.10" stroke="#333333" stroke-width="0.9" />
<line x1="202.70" y1="233.10" x2="205.30" y2="233.10" stroke="#333333" stroke-width="0.9" />
<line x1="43.50" y1="243.85" x2="45.00" y2="243.85" stroke="#333333" stroke-width="0.9" />
<line x1="203.80" y1="243.85" x2="205.30" y2="243.85" stroke="#333333" stroke-width="0.9" />
<line x1="42.40" y1="254.60" x2="45.00" y2="254.60" stroke="#333333" stroke-width="0.9" />
<line x1="202.70" y1="254.60" x2="205.30" y2="254.60" stroke="#333333" stroke-width="0.9" />
<line x1="43.50" y1="265.35" x2="45.00" y2="265.35" stroke="#333333" stroke-width="0.9" />
<line x1="203.80" y1="265.35" x2="205.30" y2="265.35" stroke="#333333" stroke-width="0.9" />
<line x1="42.40" y1="276.10" x2="45.00" y2="276.10" stroke="#333333" stroke-width="0.9" />
<line x1="202.70" y1="276.10" x2="205.30" y2="276.10" stroke="#333333" stroke-width="0.9" />
<text x="125.20" y="307.30" font-size="10.3" text-anchor="middle" fill="#111" letter-spacing="-0.35">V (V)</text>
<text x="0" y="0" font-size="9.9" text-anchor="middle" fill="#111" transform="translate(37.00,226.60) rotate(-90)" >dz/dV (arb. unit)</text>
<text x="0" y="0" font-size="12.7" text-anchor="middle" fill="#111" transform="translate(17.20,219.60) rotate(-90)" >Germanene</text>
<line x1="47.60" y1="243.10" x2="66.90" y2="243.10" stroke="#7a22ee" stroke-width="1.4" />
<text x="70.40" y="246.30" font-size="8.9" text-anchor="start" fill="#111" >100 pA</text>
<line x1="47.60" y1="254.00" x2="66.90" y2="254.00" stroke="#8a1c84" stroke-width="1.4" />
<text x="70.40" y="257.20" font-size="8.9" text-anchor="start" fill="#111" >300 pA</text>
<path d="M45.50,276.00 C46.13,276.25 47.86,276.92 49.28,277.50 C50.70,278.08 52.59,279.58 54.00,279.50 C55.42,279.42 56.52,278.83 57.78,277.00 C59.04,275.17 60.30,270.92 61.56,268.50 C62.82,266.08 64.08,263.00 65.34,262.50 C66.61,262.00 68.02,264.75 69.12,265.50 C70.23,266.25 70.86,267.00 71.96,267.00 C73.06,267.00 74.48,266.00 75.74,265.50 C77.00,265.00 78.26,263.92 79.52,264.00 C80.78,264.08 82.04,265.08 83.30,266.00 C84.56,266.92 85.66,268.50 87.08,269.50 C88.50,270.50 90.23,271.83 91.81,272.00 C93.38,272.17 94.95,271.08 96.53,270.50 C98.11,269.92 99.68,269.25 101.25,268.50 C102.83,267.75 104.40,267.50 105.98,266.00 C107.55,264.50 109.29,262.17 110.70,259.50 C112.12,256.83 113.22,252.92 114.48,250.00 C115.75,247.08 117.00,244.17 118.26,242.00 C119.52,239.83 120.91,238.10 122.04,237.00 C123.18,235.90 124.12,235.07 125.07,235.40 C126.01,235.73 126.64,236.40 127.71,239.00 C128.79,241.60 130.24,247.50 131.50,251.00 C132.75,254.50 133.95,257.87 135.27,260.00 C136.60,262.13 138.31,263.55 139.43,263.80 C140.55,264.05 140.52,264.63 142.00,261.50 C143.48,258.37 146.53,251.08 148.32,245.00 C150.10,238.92 151.50,230.42 152.70,225.00 C153.90,219.58 154.65,215.03 155.50,212.50 C156.34,209.97 157.07,209.55 157.77,209.80 C158.46,210.05 159.12,211.80 159.66,214.00 C160.19,216.20 160.19,217.83 161.00,223.00 C161.80,228.17 163.45,238.58 164.49,245.00 C165.54,251.42 166.33,259.67 167.29,261.50 C168.25,263.33 169.17,258.92 170.24,256.00 C171.31,253.08 172.56,250.00 173.70,244.00 C174.84,238.00 176.15,226.37 177.10,220.00 C178.05,213.63 178.56,205.80 179.41,205.80 C180.26,205.80 181.34,213.80 182.20,220.00 C183.07,226.20 183.69,237.28 184.60,243.00 C185.52,248.72 186.63,254.47 187.70,254.30 C188.77,254.13 189.98,247.38 191.03,242.00 C192.08,236.62 193.05,225.53 194.00,222.00 C194.94,218.47 195.87,219.97 196.70,220.80 C197.53,221.63 197.93,223.72 198.97,227.00 C200.00,230.28 202.24,238.25 202.90,240.50" fill="none" stroke="#8a1c84" stroke-width="1.45" stroke-linejoin="round"/>
<path d="M45.50,277.30 C46.13,277.48 48.02,278.37 49.28,278.40 C50.54,278.43 51.80,278.40 53.06,277.50 C54.32,276.60 55.58,275.08 56.84,273.00 C58.10,270.92 59.20,267.12 60.62,265.00 C62.04,262.88 63.93,260.55 65.34,260.30 C66.76,260.05 68.02,262.67 69.12,263.50 C70.23,264.33 70.86,265.30 71.96,265.30 C73.06,265.30 74.48,264.02 75.74,263.50 C77.00,262.98 78.26,262.03 79.52,262.20 C80.78,262.37 82.04,263.45 83.30,264.50 C84.56,265.55 85.66,267.38 87.08,268.50 C88.50,269.62 90.23,271.03 91.81,271.20 C93.38,271.37 94.95,270.17 96.53,269.50 C98.11,268.83 99.68,268.20 101.25,267.20 C102.83,266.20 104.40,265.53 105.98,263.50 C107.55,261.47 109.29,258.27 110.70,255.00 C112.12,251.73 113.22,247.07 114.48,243.90 C115.75,240.73 117.16,237.82 118.26,236.00 C119.37,234.18 120.25,233.62 121.10,233.00 C121.95,232.38 122.58,231.97 123.37,232.30 C124.16,232.63 124.79,232.38 125.82,235.00 C126.86,237.62 128.19,244.00 129.61,248.00 C131.02,252.00 132.79,256.62 134.33,259.00 C135.87,261.38 137.61,262.38 138.87,262.30 C140.13,262.22 140.85,261.38 141.89,258.50 C142.93,255.62 143.84,250.58 145.10,245.00 C146.36,239.42 148.22,231.00 149.45,225.00 C150.68,219.00 151.56,213.93 152.47,209.00 C153.39,204.07 154.14,195.40 154.93,195.40 C155.72,195.40 156.52,204.07 157.20,209.00 C157.88,213.93 158.11,218.83 158.99,225.00 C159.88,231.17 161.42,240.28 162.49,246.00 C163.56,251.72 164.49,257.97 165.40,259.30 C166.32,260.63 167.12,256.72 167.97,254.00 C168.82,251.28 169.65,249.00 170.50,243.00 C171.36,237.00 172.46,225.17 173.07,218.00 C173.69,210.83 173.79,204.95 174.21,200.00 C174.63,195.05 175.13,188.30 175.61,188.30 C176.09,188.30 176.64,195.05 177.10,200.00 C177.56,204.95 177.62,210.83 178.37,218.00 C179.11,225.17 180.34,237.05 181.58,243.00 C182.82,248.95 184.66,254.53 185.79,253.70 C186.93,252.87 187.64,244.45 188.38,238.00 C189.13,231.55 189.61,221.47 190.27,215.00 C190.94,208.53 191.63,199.70 192.39,199.20 C193.15,198.70 194.09,208.12 194.81,212.00 C195.53,215.88 196.01,219.67 196.70,222.50 C197.39,225.33 198.27,226.92 198.97,229.00 C199.66,231.08 200.20,233.03 200.86,235.00 C201.52,236.97 202.59,239.83 202.94,240.80" fill="none" stroke="#7a22ee" stroke-width="1.45" stroke-linejoin="round"/>
<line x1="124.69" y1="234.30" x2="124.69" y2="285.40" stroke="#7a22ee" stroke-width="1.4" stroke-dasharray="1.8 2.0"/>
<line x1="126.01" y1="237.40" x2="126.01" y2="285.40" stroke="#8a1c84" stroke-width="1.4" stroke-dasharray="1.8 2.0"/>
<line x1="154.93" y1="197.40" x2="154.93" y2="285.40" stroke="#7a22ee" stroke-width="1.4" stroke-dasharray="1.8 2.0"/>
<line x1="157.77" y1="211.80" x2="157.77" y2="285.40" stroke="#8a1c84" stroke-width="1.4" stroke-dasharray="1.8 2.0"/>
<line x1="175.61" y1="190.30" x2="175.61" y2="285.40" stroke="#7a22ee" stroke-width="1.4" stroke-dasharray="1.8 2.0"/>
<line x1="179.41" y1="207.80" x2="179.41" y2="285.40" stroke="#8a1c84" stroke-width="1.4" stroke-dasharray="1.8 2.0"/>
<line x1="192.39" y1="201.20" x2="192.39" y2="285.40" stroke="#7a22ee" stroke-width="1.4" stroke-dasharray="1.8 2.0"/>
<line x1="196.70" y1="222.80" x2="196.70" y2="285.40" stroke="#8a1c84" stroke-width="1.4" stroke-dasharray="1.8 2.0"/>
<text x="144.20" y="192.90" font-size="10.9" text-anchor="start" fill="#111" >n=2</text>
<text x="164.20" y="183.30" font-size="10.9" text-anchor="start" fill="#111" >n=3</text>
<text x="183.10" y="197.00" font-size="10.9" text-anchor="start" fill="#111" >n=4</text>
<line x1="68.9" y1="223.3" x2="93" y2="272" stroke="#999" stroke-width="0.9" stroke-dasharray="1 1.6"/>
<line x1="138.3" y1="223.3" x2="139.5" y2="262" stroke="#999" stroke-width="0.9" stroke-dasharray="1 1.6"/>
<rect x="68.90" y="164.70" width="69.40" height="58.60" fill="#fff" stroke="#6a6a6a" stroke-width="1.1"/>
<line x1="82.85" y1="223.30" x2="82.85" y2="221.50" stroke="#555" stroke-width="0.8" />
<line x1="82.85" y1="164.70" x2="82.85" y2="166.50" stroke="#555" stroke-width="0.8" />
<line x1="96.80" y1="223.30" x2="96.80" y2="221.50" stroke="#555" stroke-width="0.8" />
<line x1="96.80" y1="164.70" x2="96.80" y2="166.50" stroke="#555" stroke-width="0.8" />
<line x1="110.75" y1="223.30" x2="110.75" y2="221.50" stroke="#555" stroke-width="0.8" />
<line x1="110.75" y1="164.70" x2="110.75" y2="166.50" stroke="#555" stroke-width="0.8" />
<line x1="124.70" y1="223.30" x2="124.70" y2="221.50" stroke="#555" stroke-width="0.8" />
<line x1="124.70" y1="164.70" x2="124.70" y2="166.50" stroke="#555" stroke-width="0.8" />
<text x="82.85" y="233.00" font-size="8.6" text-anchor="middle" fill="#111" >4</text>
<text x="110.75" y="233.00" font-size="8.6" text-anchor="middle" fill="#111" >5</text>
<text x="138.65" y="233.00" font-size="8.6" text-anchor="middle" fill="#111" >6</text>
<path d="M68.90,220.13 C69.13,220.09 69.83,219.96 70.30,219.86 C70.76,219.76 71.23,219.65 71.69,219.54 C72.16,219.42 72.62,219.30 73.09,219.17 C73.55,219.04 74.02,218.90 74.48,218.74 C74.95,218.59 75.41,218.43 75.88,218.26 C76.34,218.09 76.80,217.90 77.27,217.71 C77.73,217.51 78.20,217.31 78.67,217.09 C79.13,216.87 79.59,216.64 80.06,216.39 C80.53,216.15 80.99,215.89 81.46,215.62 C81.92,215.35 82.39,215.06 82.85,214.76 C83.32,214.47 83.78,214.16 84.25,213.83 C84.71,213.51 85.17,213.17 85.64,212.83 C86.10,212.48 86.57,212.12 87.04,211.75 C87.50,211.38 87.97,211.00 88.43,210.61 C88.90,210.22 89.36,209.82 89.83,209.42 C90.29,209.01 90.75,208.60 91.22,208.19 C91.69,207.78 92.15,207.37 92.61,206.96 C93.08,206.54 93.55,206.13 94.01,205.73 C94.48,205.33 94.94,204.93 95.41,204.55 C95.87,204.17 96.34,203.79 96.80,203.45 C97.27,203.10 97.73,202.76 98.19,202.46 C98.66,202.16 99.12,201.88 99.59,201.64 C100.05,201.40 100.52,201.19 100.99,201.02 C101.45,200.85 101.92,200.72 102.38,200.63 C102.85,200.55 103.31,200.50 103.78,200.50 C104.24,200.50 104.70,200.55 105.17,200.63 C105.64,200.72 106.10,200.85 106.56,201.02 C107.03,201.19 107.50,201.40 107.96,201.64 C108.43,201.88 108.89,202.16 109.36,202.46 C109.82,202.76 110.28,203.10 110.75,203.45 C111.22,203.79 111.68,204.17 112.14,204.55 C112.61,204.93 113.07,205.33 113.54,205.73 C114.00,206.13 114.47,206.54 114.94,206.96 C115.40,207.37 115.87,207.78 116.33,208.19 C116.80,208.60 117.26,209.01 117.72,209.42 C118.19,209.82 118.66,210.22 119.12,210.61 C119.59,211.00 120.05,211.38 120.51,211.75 C120.98,212.12 121.45,212.48 121.91,212.83 C122.38,213.17 122.84,213.51 123.31,213.83 C123.77,214.16 124.23,214.47 124.70,214.76 C125.17,215.06 125.63,215.35 126.10,215.62 C126.56,215.89 127.02,216.15 127.49,216.39 C127.95,216.64 128.42,216.87 128.89,217.09 C129.35,217.31 129.81,217.51 130.28,217.71 C130.75,217.90 131.21,218.09 131.68,218.26 C132.14,218.43 132.61,218.59 133.07,218.74 C133.54,218.90 134.00,219.04 134.46,219.17 C134.93,219.30 135.40,219.42 135.86,219.54 C136.33,219.65 136.79,219.76 137.25,219.86 C137.72,219.96 138.42,220.09 138.65,220.13" fill="none" stroke="#e2a2e4" stroke-width="1.0"/>
<path d="M68.90,221.53 C69.13,221.51 69.83,221.48 70.30,221.46 C70.76,221.43 71.23,221.41 71.69,221.38 C72.16,221.36 72.62,221.33 73.09,221.30 C73.55,221.27 74.02,221.24 74.48,221.21 C74.95,221.18 75.41,221.15 75.88,221.11 C76.34,221.07 76.80,221.04 77.27,221.00 C77.73,220.96 78.20,220.91 78.67,220.87 C79.13,220.82 79.59,220.77 80.06,220.72 C80.53,220.66 80.99,220.60 81.46,220.54 C81.92,220.48 82.39,220.41 82.85,220.33 C83.32,220.26 83.78,220.18 84.25,220.09 C84.71,220.00 85.17,219.90 85.64,219.79 C86.10,219.69 86.57,219.57 87.04,219.44 C87.50,219.31 87.97,219.17 88.43,219.01 C88.90,218.85 89.36,218.68 89.83,218.49 C90.29,218.30 90.75,218.10 91.22,217.87 C91.69,217.64 92.15,217.39 92.61,217.12 C93.08,216.85 93.55,216.55 94.01,216.23 C94.48,215.90 94.94,215.55 95.41,215.17 C95.87,214.79 96.34,214.38 96.80,213.94 C97.27,213.49 97.73,213.02 98.19,212.51 C98.66,212.00 99.12,211.46 99.59,210.88 C100.05,210.30 100.52,209.69 100.99,209.04 C101.45,208.40 101.92,207.71 102.38,207.00 C102.85,206.29 103.31,205.54 103.78,204.77 C104.24,204.00 104.70,203.19 105.17,202.37 C105.64,201.55 106.10,200.70 106.56,199.85 C107.03,199.00 107.50,198.12 107.96,197.26 C108.43,196.39 108.89,195.52 109.36,194.67 C109.82,193.83 110.28,192.98 110.75,192.20 C111.22,191.41 111.68,190.65 112.14,189.97 C112.61,189.29 113.07,188.65 113.54,188.12 C114.00,187.59 114.47,187.14 114.94,186.81 C115.40,186.48 115.87,186.26 116.33,186.16 C116.80,186.06 117.26,186.09 117.72,186.23 C118.19,186.38 118.66,186.65 119.12,187.02 C119.59,187.39 120.05,187.89 120.51,188.45 C120.98,189.01 121.45,189.68 121.91,190.39 C122.38,191.09 122.84,191.88 123.31,192.68 C123.77,193.48 124.23,194.33 124.70,195.18 C125.17,196.03 125.63,196.92 126.10,197.78 C126.56,198.64 127.02,199.52 127.49,200.36 C127.95,201.21 128.42,202.05 128.89,202.87 C129.35,203.68 129.81,204.47 130.28,205.23 C130.75,205.99 131.21,206.73 131.68,207.43 C132.14,208.13 132.61,208.79 133.07,209.43 C133.54,210.06 134.00,210.66 134.46,211.22 C134.93,211.79 135.40,212.32 135.86,212.81 C136.33,213.31 136.79,213.77 137.25,214.20 C137.72,214.63 138.42,215.20 138.65,215.40" fill="none" stroke="#e2a2e4" stroke-width="1.0"/>
<path d="M68.90,220.55 C70.44,219.77 75.22,217.35 78.15,215.87 C81.08,214.40 84.05,213.33 86.48,211.70 C88.91,210.07 90.66,208.94 92.75,206.11 C94.84,203.27 97.28,197.98 99.02,194.71 C100.77,191.44 101.49,188.71 103.24,186.47 C104.99,184.23 107.42,183.18 109.51,181.28 C111.60,179.38 113.69,174.91 115.78,175.08 C117.87,175.25 119.96,178.86 122.06,182.30 C124.15,185.74 126.42,191.76 128.33,195.73 C130.23,199.70 131.81,203.81 133.47,206.11 C135.13,208.40 137.49,208.93 138.30,209.50" fill="none" stroke="#ac30de" stroke-width="1.5"/>
<text x="108.20" y="174.30" font-size="10.6" text-anchor="start" fill="#111" >n=1</text>
<line x1="431.70" y1="265.49" x2="570.90" y2="265.49" stroke="#ebebeb" stroke-width="0.9" stroke-dasharray="1.1 1.5"/>
<line x1="431.70" y1="248.57" x2="570.90" y2="248.57" stroke="#c6c6c6" stroke-width="0.9" stroke-dasharray="1.1 1.5"/>
<line x1="431.70" y1="231.66" x2="570.90" y2="231.66" stroke="#ebebeb" stroke-width="0.9" stroke-dasharray="1.1 1.5"/>
<line x1="431.70" y1="214.75" x2="570.90" y2="214.75" stroke="#c6c6c6" stroke-width="0.9" stroke-dasharray="1.1 1.5"/>
<line x1="431.70" y1="197.84" x2="570.90" y2="197.84" stroke="#ebebeb" stroke-width="0.9" stroke-dasharray="1.1 1.5"/>
<line x1="431.70" y1="180.92" x2="570.90" y2="180.92" stroke="#c6c6c6" stroke-width="0.9" stroke-dasharray="1.1 1.5"/>
<line x1="431.70" y1="164.01" x2="570.90" y2="164.01" stroke="#ebebeb" stroke-width="0.9" stroke-dasharray="1.1 1.5"/>
<line x1="431.70" y1="147.10" x2="570.90" y2="147.10" stroke="#c6c6c6" stroke-width="0.9" stroke-dasharray="1.1 1.5"/>
<line x1="431.70" y1="130.19" x2="570.90" y2="130.19" stroke="#c6c6c6" stroke-width="0.9" stroke-dasharray="1.1 1.5"/>
<line x1="431.70" y1="113.27" x2="570.90" y2="113.27" stroke="#ebebeb" stroke-width="0.9" stroke-dasharray="1.1 1.5"/>
<line x1="431.70" y1="96.36" x2="570.90" y2="96.36" stroke="#c6c6c6" stroke-width="0.9" stroke-dasharray="1.1 1.5"/>
<line x1="431.70" y1="79.45" x2="570.90" y2="79.45" stroke="#ebebeb" stroke-width="0.9" stroke-dasharray="1.1 1.5"/>
<line x1="431.70" y1="62.54" x2="570.90" y2="62.54" stroke="#c6c6c6" stroke-width="0.9" stroke-dasharray="1.1 1.5"/>
<line x1="431.70" y1="45.62" x2="570.90" y2="45.62" stroke="#ebebeb" stroke-width="0.9" stroke-dasharray="1.1 1.5"/>
<line x1="431.70" y1="28.71" x2="570.90" y2="28.71" stroke="#c6c6c6" stroke-width="0.9" stroke-dasharray="1.1 1.5"/>
<line x1="570.90" y1="11.80" x2="570.90" y2="282.40" stroke="#555" stroke-width="1.1" />
<path d="M570.90,11.80 L431.70,11.80 L431.70,282.40 L570.90,282.40" fill="none" stroke="#333333" stroke-width="1.5"/>
<line x1="428.70" y1="282.40" x2="431.70" y2="282.40" stroke="#333333" stroke-width="0.9" />
<line x1="568.70" y1="282.40" x2="570.90" y2="282.40" stroke="#333333" stroke-width="0.9" />
<text x="427.00" y="284.70" font-size="8.9" text-anchor="end" fill="#111" >3.00</text>
<line x1="428.70" y1="248.57" x2="431.70" y2="248.57" stroke="#333333" stroke-width="0.9" />
<line x1="568.70" y1="248.57" x2="570.90" y2="248.57" stroke="#333333" stroke-width="0.9" />
<text x="427.00" y="250.88" font-size="8.9" text-anchor="end" fill="#111" >3.25</text>
<line x1="428.70" y1="214.75" x2="431.70" y2="214.75" stroke="#333333" stroke-width="0.9" />
<line x1="568.70" y1="214.75" x2="570.90" y2="214.75" stroke="#333333" stroke-width="0.9" />
<text x="427.00" y="217.05" font-size="8.9" text-anchor="end" fill="#111" >3.50</text>
<line x1="428.70" y1="180.92" x2="431.70" y2="180.92" stroke="#333333" stroke-width="0.9" />
<line x1="568.70" y1="180.92" x2="570.90" y2="180.92" stroke="#333333" stroke-width="0.9" />
<text x="427.00" y="183.22" font-size="8.9" text-anchor="end" fill="#111" >3.75</text>
<line x1="428.70" y1="147.10" x2="431.70" y2="147.10" stroke="#333333" stroke-width="0.9" />
<line x1="568.70" y1="147.10" x2="570.90" y2="147.10" stroke="#333333" stroke-width="0.9" />
<text x="427.00" y="149.40" font-size="8.9" text-anchor="end" fill="#111" >4.00</text>
<line x1="428.70" y1="113.27" x2="431.70" y2="113.27" stroke="#333333" stroke-width="0.9" />
<line x1="568.70" y1="113.27" x2="570.90" y2="113.27" stroke="#333333" stroke-width="0.9" />
<text x="427.00" y="115.57" font-size="8.9" text-anchor="end" fill="#111" >4.25</text>
<line x1="428.70" y1="79.45" x2="431.70" y2="79.45" stroke="#333333" stroke-width="0.9" />
<line x1="568.70" y1="79.45" x2="570.90" y2="79.45" stroke="#333333" stroke-width="0.9" />
<text x="427.00" y="81.75" font-size="8.9" text-anchor="end" fill="#111" >4.50</text>
<line x1="428.70" y1="45.62" x2="431.70" y2="45.62" stroke="#333333" stroke-width="0.9" />
<line x1="568.70" y1="45.62" x2="570.90" y2="45.62" stroke="#333333" stroke-width="0.9" />
<text x="427.00" y="47.92" font-size="8.9" text-anchor="end" fill="#111" >4.75</text>
<line x1="428.70" y1="11.80" x2="431.70" y2="11.80" stroke="#333333" stroke-width="0.9" />
<line x1="568.70" y1="11.80" x2="570.90" y2="11.80" stroke="#333333" stroke-width="0.9" />
<text x="427.00" y="14.10" font-size="8.9" text-anchor="end" fill="#111" >5.00</text>
<line x1="431.60" y1="282.40" x2="431.60" y2="284.80" stroke="#333333" stroke-width="0.9" />
<line x1="431.60" y1="11.80" x2="431.60" y2="14.20" stroke="#333333" stroke-width="0.9" />
<line x1="444.30" y1="282.40" x2="444.30" y2="283.80" stroke="#333333" stroke-width="0.9" />
<line x1="444.30" y1="11.80" x2="444.30" y2="13.20" stroke="#333333" stroke-width="0.9" />
<line x1="457.00" y1="282.40" x2="457.00" y2="284.80" stroke="#333333" stroke-width="0.9" />
<line x1="457.00" y1="11.80" x2="457.00" y2="14.20" stroke="#333333" stroke-width="0.9" />
<line x1="469.70" y1="282.40" x2="469.70" y2="283.80" stroke="#333333" stroke-width="0.9" />
<line x1="469.70" y1="11.80" x2="469.70" y2="13.20" stroke="#333333" stroke-width="0.9" />
<line x1="482.40" y1="282.40" x2="482.40" y2="284.80" stroke="#333333" stroke-width="0.9" />
<line x1="482.40" y1="11.80" x2="482.40" y2="14.20" stroke="#333333" stroke-width="0.9" />
<line x1="495.10" y1="282.40" x2="495.10" y2="283.80" stroke="#333333" stroke-width="0.9" />
<line x1="495.10" y1="11.80" x2="495.10" y2="13.20" stroke="#333333" stroke-width="0.9" />
<line x1="507.80" y1="282.40" x2="507.80" y2="284.80" stroke="#333333" stroke-width="0.9" />
<line x1="507.80" y1="11.80" x2="507.80" y2="14.20" stroke="#333333" stroke-width="0.9" />
<line x1="520.50" y1="282.40" x2="520.50" y2="283.80" stroke="#333333" stroke-width="0.9" />
<line x1="520.50" y1="11.80" x2="520.50" y2="13.20" stroke="#333333" stroke-width="0.9" />
<line x1="533.20" y1="282.40" x2="533.20" y2="284.80" stroke="#333333" stroke-width="0.9" />
<line x1="533.20" y1="11.80" x2="533.20" y2="14.20" stroke="#333333" stroke-width="0.9" />
<line x1="545.90" y1="282.40" x2="545.90" y2="283.80" stroke="#333333" stroke-width="0.9" />
<line x1="545.90" y1="11.80" x2="545.90" y2="13.20" stroke="#333333" stroke-width="0.9" />
<line x1="558.60" y1="282.40" x2="558.60" y2="284.80" stroke="#333333" stroke-width="0.9" />
<line x1="558.60" y1="11.80" x2="558.60" y2="14.20" stroke="#333333" stroke-width="0.9" />
<text x="431.60" y="294.30" font-size="8.9" text-anchor="middle" fill="#111" >0</text>
<text x="457.00" y="294.30" font-size="8.9" text-anchor="middle" fill="#111" >200</text>
<text x="482.40" y="294.30" font-size="8.9" text-anchor="middle" fill="#111" >400</text>
<text x="507.80" y="294.30" font-size="8.9" text-anchor="middle" fill="#111" >600</text>
<text x="533.20" y="294.30" font-size="8.9" text-anchor="middle" fill="#111" >800</text>
<text x="558.60" y="294.30" font-size="8.9" text-anchor="middle" fill="#111" >1000</text>
<text x="501.40" y="309.80" font-size="9.7" text-anchor="middle" fill="#111" >set point current (pA)</text>
<text x="0" y="0" font-size="9.9" text-anchor="middle" fill="#111" transform="translate(405.90,151.90) rotate(-90)" >work function (eV)</text>
<line x1="435.41" y1="72.50" x2="435.41" y2="100.40" stroke="#7fb47f" stroke-width="1.05" />
<line x1="432.91" y1="72.50" x2="437.91" y2="72.50" stroke="#7fb47f" stroke-width="1.05" />
<line x1="432.91" y1="100.40" x2="437.91" y2="100.40" stroke="#7fb47f" stroke-width="1.05" />
<circle cx="435.41" cy="86.40" r="2.9" fill="#20e020" stroke="#30b030" stroke-width="0.6"/>
<line x1="457.00" y1="54.70" x2="457.00" y2="93.30" stroke="#7fb47f" stroke-width="1.05" />
<line x1="454.50" y1="54.70" x2="459.50" y2="54.70" stroke="#7fb47f" stroke-width="1.05" />
<line x1="454.50" y1="93.30" x2="459.50" y2="93.30" stroke="#7fb47f" stroke-width="1.05" />
<circle cx="457.00" cy="74.00" r="2.9" fill="#20e020" stroke="#30b030" stroke-width="0.6"/>
<line x1="495.10" y1="77.60" x2="495.10" y2="110.60" stroke="#7fb47f" stroke-width="1.05" />
<line x1="492.60" y1="77.60" x2="497.60" y2="77.60" stroke="#7fb47f" stroke-width="1.05" />
<line x1="492.60" y1="110.60" x2="497.60" y2="110.60" stroke="#7fb47f" stroke-width="1.05" />
<circle cx="495.10" cy="94.10" r="2.9" fill="#20e020" stroke="#30b030" stroke-width="0.6"/>
<line x1="507.80" y1="64.60" x2="507.80" y2="97.90" stroke="#7fb47f" stroke-width="1.05" />
<line x1="505.30" y1="64.60" x2="510.30" y2="64.60" stroke="#7fb47f" stroke-width="1.05" />
<line x1="505.30" y1="97.90" x2="510.30" y2="97.90" stroke="#7fb47f" stroke-width="1.05" />
<circle cx="507.80" cy="81.10" r="2.9" fill="#20e020" stroke="#30b030" stroke-width="0.6"/>
<line x1="558.60" y1="57.00" x2="558.60" y2="102.70" stroke="#7fb47f" stroke-width="1.05" />
<line x1="556.10" y1="57.00" x2="561.10" y2="57.00" stroke="#7fb47f" stroke-width="1.05" />
<line x1="556.10" y1="102.70" x2="561.10" y2="102.70" stroke="#7fb47f" stroke-width="1.05" />
<circle cx="558.60" cy="79.80" r="2.9" fill="#20e020" stroke="#30b030" stroke-width="0.6"/>
<line x1="444.30" y1="148.60" x2="444.30" y2="180.90" stroke="#7070b4" stroke-width="1.05" />
<line x1="441.80" y1="148.60" x2="446.80" y2="148.60" stroke="#7070b4" stroke-width="1.05" />
<line x1="441.80" y1="180.90" x2="446.80" y2="180.90" stroke="#7070b4" stroke-width="1.05" />
<circle cx="444.30" cy="164.90" r="2.9" fill="#7a18ee" stroke="#4a10a8" stroke-width="0.6"/>
<line x1="457.00" y1="161.70" x2="457.00" y2="194.30" stroke="#7070b4" stroke-width="1.05" />
<line x1="454.50" y1="161.70" x2="459.50" y2="161.70" stroke="#7070b4" stroke-width="1.05" />
<line x1="454.50" y1="194.30" x2="459.50" y2="194.30" stroke="#7070b4" stroke-width="1.05" />
<circle cx="457.00" cy="178.00" r="2.9" fill="#7a18ee" stroke="#4a10a8" stroke-width="0.6"/>
<line x1="469.70" y1="164.90" x2="469.70" y2="196.60" stroke="#7070b4" stroke-width="1.05" />
<line x1="467.20" y1="164.90" x2="472.20" y2="164.90" stroke="#7070b4" stroke-width="1.05" />
<line x1="467.20" y1="196.60" x2="472.20" y2="196.60" stroke="#7070b4" stroke-width="1.05" />
<circle cx="469.70" cy="180.90" r="2.9" fill="#7a18ee" stroke="#4a10a8" stroke-width="0.6"/>
<line x1="482.40" y1="171.40" x2="482.40" y2="212.30" stroke="#7070b4" stroke-width="1.05" />
<line x1="479.90" y1="171.40" x2="484.90" y2="171.40" stroke="#7070b4" stroke-width="1.05" />
<line x1="479.90" y1="212.30" x2="484.90" y2="212.30" stroke="#7070b4" stroke-width="1.05" />
<circle cx="482.40" cy="192.00" r="2.9" fill="#7a18ee" stroke="#4a10a8" stroke-width="0.6"/>
<line x1="558.60" y1="181.60" x2="558.60" y2="225.50" stroke="#7070b4" stroke-width="1.05" />
<line x1="556.10" y1="181.60" x2="561.10" y2="181.60" stroke="#7070b4" stroke-width="1.05" />
<line x1="556.10" y1="225.50" x2="561.10" y2="225.50" stroke="#7070b4" stroke-width="1.05" />
<circle cx="558.60" cy="203.70" r="2.9" fill="#7a18ee" stroke="#4a10a8" stroke-width="0.6"/>
</svg>
</body></html>
